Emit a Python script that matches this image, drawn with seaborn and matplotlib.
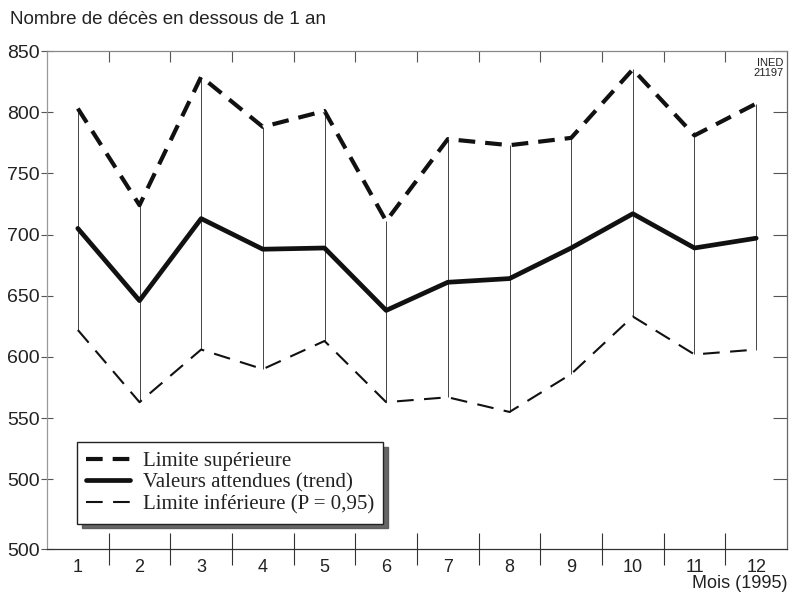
import matplotlib
matplotlib.use("Agg")
import matplotlib.pyplot as plt
import seaborn as sns
import numpy as np
import pandas as pd

months = [1, 2, 3, 4, 5, 6, 7, 8, 9, 10, 11, 12]
upper = [803, 724, 829, 788, 801, 711, 778, 773, 779, 835, 781, 807]
trend = [705, 646, 713, 688, 689, 638, 661, 664, 689, 717, 689, 697]
lower = [622, 563, 606, 590, 613, 563, 567, 555, 586, 633, 602, 606]
ytick_vals = [443, 500, 550, 600, 650, 700, 750, 800, 850]
ytick_labels = ["500", "500", "550", "600", "650", "700", "750", "800", "850"]
labels = ["Limite supérieure", "Valeurs attendues (trend)", "Limite inférieure (P = 0,95)"]

sns.set_theme(style="white")
plt.rcParams['font.family'] = ['Liberation Sans', 'DejaVu Sans']

fig = plt.figure(figsize=(7.92, 5.94), dpi=100)
ax = fig.add_axes([47/792, 1-549/594, 740/792, 498/594])

df = pd.DataFrame({"mois": months, "upper": upper, "trend": trend, "lower": lower})

# drop lines between limits
ax.vlines(df["mois"], df["lower"], df["upper"], color="#444444", lw=0.7, zorder=1)

sns.lineplot(data=df, x="mois", y="upper", ax=ax, color="#111111", lw=3.0,
             linestyle=(0, (4, 2.4)), label=labels[0], zorder=3)
sns.lineplot(data=df, x="mois", y="trend", ax=ax, color="#111111", lw=3.4,
             label=labels[1], zorder=3)
sns.lineplot(data=df, x="mois", y="lower", ax=ax, color="#111111", lw=1.5,
             linestyle=(0, (8, 5)), label=labels[2], zorder=3)

ax.set_xlim(0.5, 12.5)
ax.set_ylim(443, 850)
ax.set_xlabel("")
ax.set_ylabel("")

# x: major ticks at boundaries, month labels at centers
ax.set_xticks(np.arange(1.5, 12.5, 1.0))
ax.set_xticklabels([])
ax.set_xticks(months, minor=True)
ax.set_xticklabels([str(m) for m in months], minor=True)
ax.tick_params(axis="x", which="major", direction="inout", length=23, width=0.8,
               color="#333333", bottom=True, top=False)
ax.tick_params(axis="x", which="minor", length=0, pad=7, labelsize=13,
               labelcolor="#222222")

ax.set_yticks(ytick_vals)
ax.set_yticklabels(ytick_labels)
ax.tick_params(axis="y", which="major", direction="inout", length=8, width=0.8,
               color="#555555", left=True, labelsize=14, labelcolor="#222222", pad=1)

# right inward ticks & top inward ticks via secondary axes
axr = ax.secondary_yaxis("right")
axr.set_yticks(ytick_vals[1:])
axr.tick_params(direction="in", length=10, width=0.8, color="#555555", labelright=False)
axr.spines["right"].set_visible(False)
axt = ax.secondary_xaxis("top")
axt.set_xticks(np.arange(1.5, 12.5, 1.0))
axt.tick_params(direction="in", length=8, width=0.8, color="#555555", labeltop=False)
axt.spines["top"].set_visible(False)

for side in ["left", "right", "top", "bottom"]:
    ax.spines[side].set_visible(True)
    ax.spines[side].set_linewidth(0.9)
ax.spines["left"].set_color("#999999")
ax.spines["top"].set_color("#888888")
ax.spines["right"].set_color("#666666")
ax.spines["bottom"].set_color("#333333")

leg = ax.legend(loc="upper left", bbox_to_anchor=(0.0405, 0.215), borderaxespad=0,
                frameon=True, fancybox=False,
                shadow={"color": "#555555", "alpha": 0.9, "ox": 3.5, "oy": -3.5},
                handlelength=2.1, handletextpad=0.6, labelspacing=0.1,
                borderpad=0.45, prop={"family": "Liberation Serif", "size": 15})
leg.get_frame().set_edgecolor("#222222")
leg.get_frame().set_linewidth(1.0)
for t in leg.get_texts():
    t.set_color("#222222")

fig.text(10/792, 1-20/594, "Nombre de décès en dessous de 1 an", fontsize=13.5,
         color="#222222", va="center", ha="left")
fig.text(787/792, 1-584/594, "Mois (1995)", fontsize=13, color="#222222",
         va="center", ha="right")
ax.text(0.995, 0.985, "INED\n21197", transform=ax.transAxes, fontsize=8,
        ha="right", va="top", color="#222222", linespacing=0.9)

fig.savefig("out.png", dpi=100)
